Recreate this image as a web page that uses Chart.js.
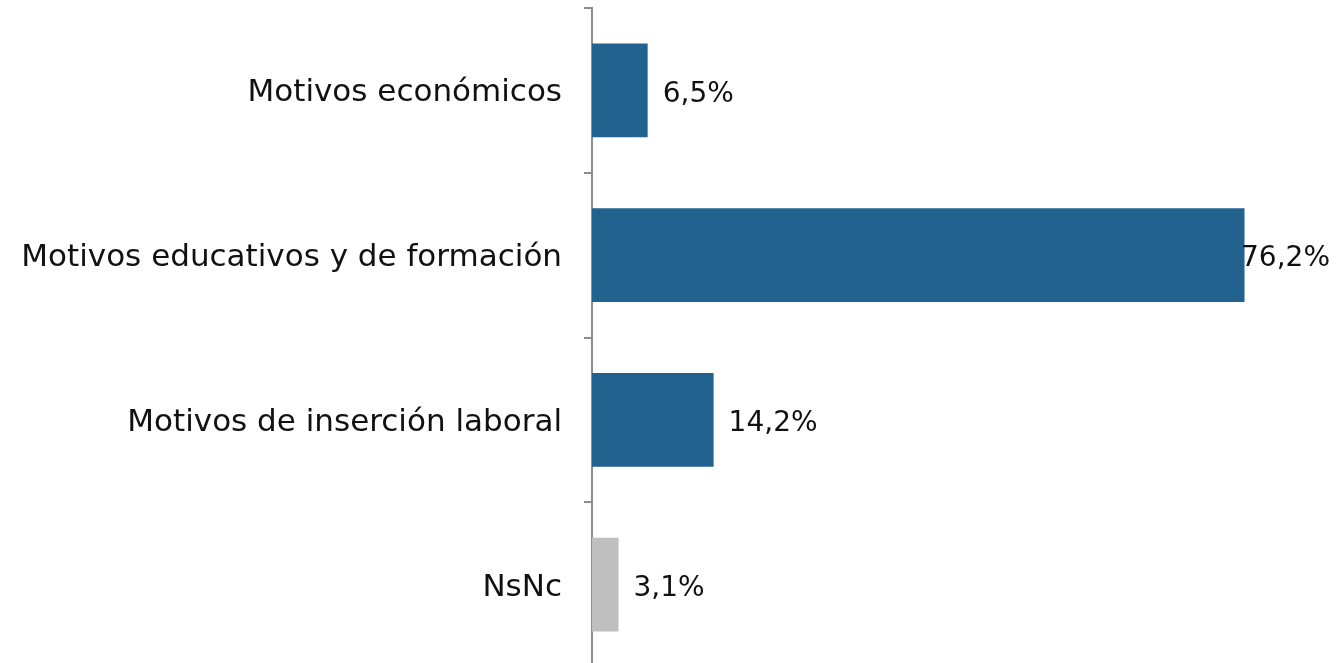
<!DOCTYPE html>
<html><head><meta charset="utf-8">
<script src="https://cdn.jsdelivr.net/npm/chart.js@4/dist/chart.umd.min.js"></script>
<style>html,body{margin:0;padding:0;background:#fff;overflow:hidden}#wrap{width:1337px;height:667px;position:relative}</style>
</head><body><div id="wrap"><canvas id="c"></canvas></div>
<script>
const categories = ["Motivos económicos", "Motivos educativos y de formación", "Motivos de inserción laboral", "NsNc"];
const values = [6.5, 76.2, 14.2, 3.1];
const barColors = ["#22628E", "#22628E", "#22628E", "#BFBFBF"];
const valueLabels = ["6,5%", "76,2%", "14,2%", "3,1%"];
const FONT = "'DejaVu Sans', sans-serif";
const CAT_SIZE = 31;
const VAL_SIZE = 28;

const labelPlugin = {
  id: 'vlabels',
  afterDatasetsDraw(chart) {
    const ctx = chart.ctx;
    const meta = chart.getDatasetMeta(0);
    ctx.save();
    ctx.font = VAL_SIZE + "px " + FONT;
    ctx.fillStyle = "#111";
    ctx.textBaseline = "middle";
    meta.data.forEach((bar, i) => {
      const t = valueLabels[i];
      const w = ctx.measureText(t).width;
      let x = bar.x + 15;
      const maxX = chart.width - 7 - w;
      if (x > maxX) x = maxX;
      ctx.fillText(t, x, bar.y + 4);
    });
    ctx.restore();
  }
};

new Chart(document.getElementById('c'), {
  type: 'bar',
  data: { labels: categories, datasets: [{ data: values, backgroundColor: barColors, borderWidth: 0, barPercentage: 0.57, categoryPercentage: 1 }] },
  options: {
    indexAxis: 'y', responsive: true, maintainAspectRatio: false, animation: false,
    layout: { autoPadding: false, padding: { top: 8, right: 0, bottom: 0, left: 0 } },
    plugins: { legend: { display: false }, tooltip: { enabled: false } },
    scales: {
      x: { display: false, min: 0, max: 87, afterFit(s) { s.height = 0; s.paddingLeft = 0; s.paddingRight = 0; } },
      y: {
        afterFit(s) { s.width = 592; s.paddingTop = 0; s.paddingBottom = 0; },
        grid: { drawOnChartArea: false, drawTicks: true, tickLength: 8, color: '#8C8C8C', lineWidth: 2 },
        border: { display: true, color: '#8C8C8C', width: 2 },
        ticks: { color: '#111', padding: 22, labelOffset: 3, font: { family: FONT, size: CAT_SIZE } }
      }
    }
  },
  plugins: [labelPlugin]
});
</script></body></html>
